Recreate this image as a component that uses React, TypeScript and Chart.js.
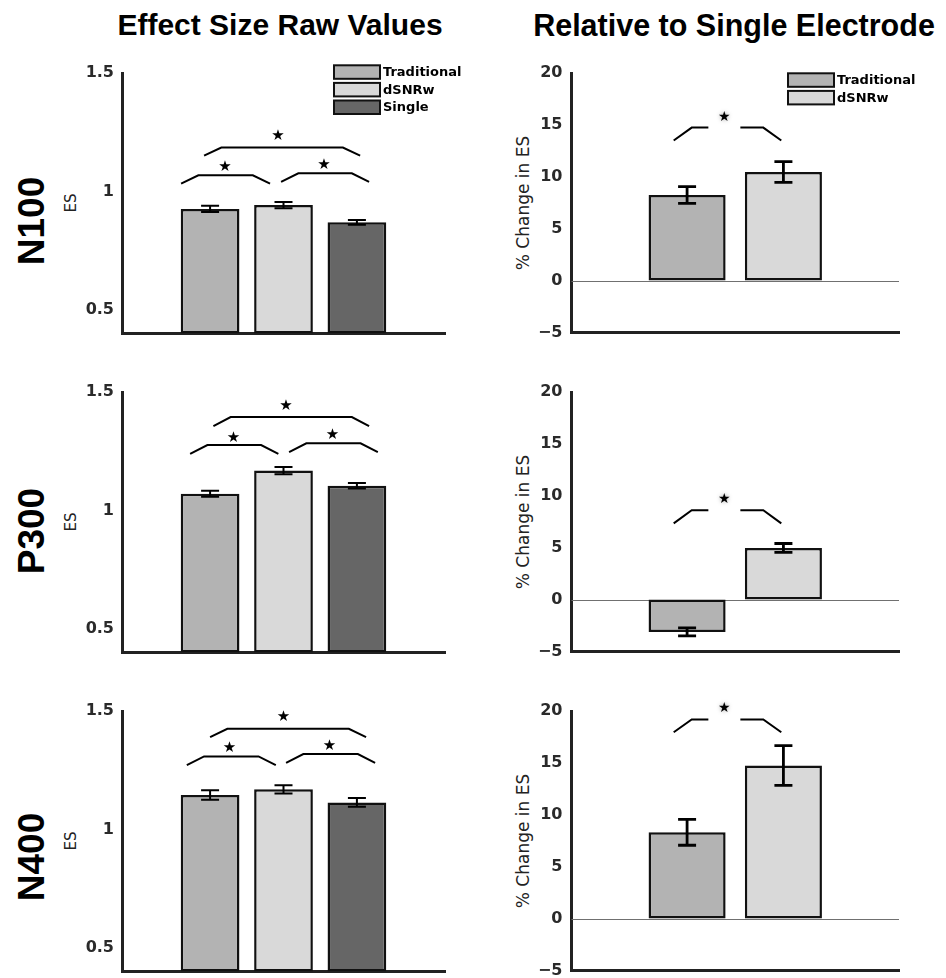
import React, { useEffect, useRef } from 'react';
import { Chart, registerables } from 'chart.js';

Chart.register(...registerables);

// ---------------- data ----------------
const ES_CATEGORIES = ['Traditional', 'dSNRw', 'Single'];
const PCT_CATEGORIES = ['Traditional', 'dSNRw'];
const COMPONENTS = ['N100', 'P300', 'N400'];
const ES_TICKS = [0.5, 1, 1.5];
const PCT_TICKS = [-5, 0, 5, 10, 15, 20];

const N100_ES = [0.926, 0.942, 0.869];
const N100_ES_ERR = [0.013, 0.013, 0.01];
const P300_ES = [1.07, 1.168, 1.104];
const P300_ES_ERR = [0.013, 0.015, 0.012];
const N400_ES = [1.145, 1.169, 1.114];
const N400_ES_ERR = [0.02, 0.017, 0.018];

const N100_PCT = [8.24, 10.46];
const N100_PCT_ERR = [0.8, 1.0];
const P300_PCT = [-3.12, 4.97];
const P300_PCT_ERR = [0.39, 0.43];
const N400_PCT = [8.31, 14.75];
const N400_PCT_ERR = [1.25, 1.92];

// significance brackets: [xStart, xEnd, yBase, yTop, starX, starY] (data units)
const N100_ES_SIG = [
  [0.605, 1.817, 1.033, 1.068, 1.204, 1.103],
  [1.967, 3.166, 1.04, 1.076, 2.553, 1.111],
  [0.918, 3.044, 1.151, 1.185, 1.926, 1.234],
];
const P300_ES_SIG = [
  [0.728, 1.93, 1.239, 1.276, 1.317, 1.307],
  [2.076, 3.285, 1.246, 1.283, 2.666, 1.318],
  [1.045, 3.166, 1.356, 1.394, 2.035, 1.441],
];
const N400_ES_SIG = [
  [0.683, 1.895, 1.271, 1.308, 1.263, 1.342],
  [2.035, 3.248, 1.281, 1.318, 2.625, 1.352],
  [1.0, 3.125, 1.39, 1.425, 1.999, 1.476],
];
const N100_PCT_SIG = [[0.861, 1.978, 13.5, 14.74, 1.387, 15.76]];
const P300_PCT_SIG = [[0.861, 1.978, 7.34, 8.6, 1.387, 9.65]];
const N400_PCT_SIG = [[0.861, 1.978, 17.95, 19.18, 1.387, 20.24]];

// ---------------- styling / layout ----------------
const BAR_COLORS = ['#b3b3b3', '#d9d9d9', '#666666'];
const ES_MIN = 0.4;
const ES_MAX = 1.5;
const PCT_MIN = -5;
const PCT_MAX = 20;
const AREA_TOP0 = 72.5;
const ROW_STEP = 319;
const AREA_H = 260;
const PAD_TOP = 40;
const X_AXIS_H = 14;
const EXTRA_H = 4;
const CANVAS_H = PAD_TOP + AREA_H + X_AXIS_H + EXTRA_H;
const AXIS_COLOR = '#222222';
const TICK_FONT = { family: '"DejaVu Sans", sans-serif', size: 16, weight: 'bold' };

const LEFT_GEO = { left: 60, width: 420, axisW: 62, padRight: 35, tickPad: 8, legendTop: -7.7, errW: 2, bracketSlant: 0.235, gap: 0, starSize: 15, shadow: false };
const RIGHT_GEO = { left: 500, width: 446, axisW: 71.5, padRight: 47, tickPad: 9, legendTop: 0.3, errW: 2.8, bracketSlant: 0.187, gap: 16, starSize: 14, shadow: true };

type PanelProps = {
  kind: 'es' | 'pct';
  values: number[];
  errors: number[];
  sig: number[][];
  legend: boolean;
  row: number;
};

function Panel({ kind, values, errors, sig, legend, row }: PanelProps) {
  const ref = useRef<HTMLCanvasElement | null>(null);
  const isEs = kind === 'es';
  const geo = isEs ? LEFT_GEO : RIGHT_GEO;
  const areaTop = AREA_TOP0 + row * ROW_STEP;

  useEffect(() => {
    if (!ref.current) return;
    const n = values.length;
    const labels = isEs ? ES_CATEGORIES : PCT_CATEGORIES;
    const ticks = isEs ? ES_TICKS : PCT_TICKS;

    const overlay = {
      id: 'overlay',
      beforeDatasetsDraw(chart: any) {
        if (isEs) return;
        const { ctx, chartArea } = chart;
        const ys = chart.scales.y;
        const y0 = Math.round(ys.getPixelForValue(0)) + 0.5;
        ctx.save();
        ctx.strokeStyle = '#707070';
        ctx.lineWidth = 1;
        ctx.beginPath();
        ctx.moveTo(chartArea.left, y0);
        ctx.lineTo(chartArea.right, y0);
        ctx.stroke();
        ctx.restore();
      },
      afterDatasetsDraw(chart: any) {
        const { ctx, chartArea } = chart;
        const xs = chart.scales.x;
        const ys = chart.scales.y;
        ctx.save();
        // error bars
        ctx.strokeStyle = '#000';
        ctx.lineWidth = geo.errW;
        values.forEach((v, i) => {
          const px = xs.getPixelForValue(i + 1);
          const y1 = ys.getPixelForValue(v - errors[i]);
          const y2 = ys.getPixelForValue(v + errors[i]);
          const cap = 9;
          ctx.beginPath();
          ctx.moveTo(px, y1);
          ctx.lineTo(px, y2);
          ctx.moveTo(px - cap, y1);
          ctx.lineTo(px + cap, y1);
          ctx.moveTo(px - cap, y2);
          ctx.lineTo(px + cap, y2);
          ctx.stroke();
        });
        // significance brackets
        ctx.lineWidth = 2;
        ctx.lineJoin = 'miter';
        sig.forEach(([xa, xb, yb, yt, sx, sy]) => {
          const pa = xs.getPixelForValue(xa);
          const pb = xs.getPixelForValue(xb);
          const pai = xs.getPixelForValue(xa + geo.bracketSlant);
          const pbi = xs.getPixelForValue(xb - geo.bracketSlant);
          const pyb = ys.getPixelForValue(yb);
          const pyt = ys.getPixelForValue(yt);
          const psx = xs.getPixelForValue(sx);
          const psy = ys.getPixelForValue(sy);
          ctx.strokeStyle = '#000';
          ctx.beginPath();
          ctx.moveTo(pa, pyb);
          ctx.lineTo(pai, pyt);
          if (geo.gap > 0) {
            ctx.lineTo(psx - geo.gap, pyt);
            ctx.moveTo(psx + geo.gap, pyt);
          }
          ctx.lineTo(pbi, pyt);
          ctx.lineTo(pb, pyb);
          ctx.stroke();
          ctx.save();
          ctx.fillStyle = '#000';
          ctx.font = `${geo.starSize}px "DejaVu Sans", sans-serif`;
          ctx.textAlign = 'center';
          ctx.textBaseline = 'middle';
          if (geo.shadow) {
            ctx.shadowColor = 'rgba(0,0,0,0.35)';
            ctx.shadowBlur = 4;
          }
          ctx.fillText('\u2605', psx, psy);
          ctx.restore();
        });
        // legend
        if (legend) {
          const bx = chartArea.right - 111;
          const by0 = chartArea.top + geo.legendTop;
          labels.forEach((lab, i) => {
            const y = by0 + i * 17.6;
            ctx.fillStyle = BAR_COLORS[i];
            ctx.fillRect(bx, y, 46, 13.5);
            ctx.strokeStyle = '#111';
            ctx.lineWidth = 2;
            ctx.strokeRect(bx, y, 46, 13.5);
            ctx.fillStyle = '#000';
            ctx.font = 'bold 13px "DejaVu Sans", sans-serif';
            ctx.textAlign = 'left';
            ctx.textBaseline = 'middle';
            ctx.fillText(lab, bx + 49, y + 7.5);
          });
        }
        ctx.restore();
      },
    };

    const chart = new Chart(ref.current, {
      type: 'bar',
      data: {
        datasets: [
          {
            label: isEs ? 'Effect size' : '% Change in ES',
            data: values.map((v, i) => ({ x: i + 1, y: v })),
            backgroundColor: BAR_COLORS.slice(0, n),
            borderColor: '#111',
            borderWidth: 2.5,
            borderSkipped: false,
            base: isEs ? ES_MIN : 0,
            categoryPercentage: 1,
            barPercentage: 0.8,
          } as any,
        ],
      },
      options: {
        animation: false,
        responsive: false,
        maintainAspectRatio: false,
        events: [],
        layout: { padding: { left: 0, top: PAD_TOP, right: geo.padRight, bottom: 0 } },
        plugins: {
          legend: { display: false },
          tooltip: { enabled: false },
          title: { display: false },
        },
        scales: {
          x: {
            type: 'linear',
            min: -0.2,
            max: n + 1.2,
            offset: false,
            z: 1,
            grid: { display: false, drawTicks: false },
            border: { display: true, width: 3, color: AXIS_COLOR },
            ticks: { display: false },
            afterBuildTicks: (s: any) => {
              s.ticks = values.map((_, i) => ({ value: i + 1 }));
            },
            afterFit: (s: any) => {
              s.height = X_AXIS_H;
            },
          },
          y: {
            type: 'linear',
            min: isEs ? ES_MIN : PCT_MIN,
            max: isEs ? ES_MAX : PCT_MAX,
            z: 1,
            grid: { display: false, drawTicks: false },
            border: { display: true, width: 3, color: AXIS_COLOR },
            ticks: {
              padding: geo.tickPad,
              color: '#2a2a2a',
              font: TICK_FONT,
              callback: (v: any) => String(v).replace('-', '\u2212'),
            },
            afterBuildTicks: (s: any) => {
              s.ticks = ticks.map((v) => ({ value: v }));
            },
            afterFit: (s: any) => {
              s.width = geo.axisW;
            },
          },
        },
      } as any,
      plugins: [overlay],
    });
    return () => chart.destroy();
  }, []);

  return (
    <canvas
      ref={ref}
      width={geo.width}
      height={CANVAS_H}
      style={{ position: 'absolute', left: geo.left, top: areaTop - PAD_TOP, width: geo.width, height: CANVAS_H }}
    />
  );
}

function Label({ text, x, y, font, rotate, color }: { text: string; x: number; y: number; font: string; rotate?: boolean; color?: string }) {
  return (
    <div
      style={{
        position: 'absolute',
        left: x,
        top: y,
        font,
        lineHeight: 1,
        whiteSpace: 'nowrap',
        color: color || '#000',
        transform: `translate(-50%, -50%)${rotate ? ' rotate(-90deg)' : ''}`,
      }}
    >
      {text}
    </div>
  );
}

const ES_ROWS = [
  { values: N100_ES, errors: N100_ES_ERR, sig: N100_ES_SIG },
  { values: P300_ES, errors: P300_ES_ERR, sig: P300_ES_SIG },
  { values: N400_ES, errors: N400_ES_ERR, sig: N400_ES_SIG },
];
const PCT_ROWS = [
  { values: N100_PCT, errors: N100_PCT_ERR, sig: N100_PCT_SIG },
  { values: P300_PCT, errors: P300_PCT_ERR, sig: P300_PCT_SIG },
  { values: N400_PCT, errors: N400_PCT_ERR, sig: N400_PCT_SIG },
];
const ROW_LABEL_Y = [220.8, 530.8, 856.5];

export default function App() {
  return (
    <div
      style={{
        position: 'absolute',
        left: 0,
        top: 0,
        width: 946,
        height: 978,
        overflow: 'hidden',
        background: '#fff',
      }}
    >
      <Label text="Effect Size Raw Values" x={280} y={25.3} font='bold 30px "Liberation Sans", Arial, sans-serif' />
      <Label text="Relative to Single Electrode" x={734} y={25.3} font='bold 30.5px "Liberation Sans", Arial, sans-serif' />
      {COMPONENTS.map((c, r) => (
        <React.Fragment key={c}>
          <Label text={c} x={31} y={ROW_LABEL_Y[r]} font='bold 37px "Liberation Sans", Arial, sans-serif' rotate />
          <Label text="ES" x={71} y={AREA_TOP0 + r * ROW_STEP + AREA_H / 2} font='15px "DejaVu Sans", sans-serif' rotate color="#222" />
          <Label text="% Change in ES" x={523} y={AREA_TOP0 + r * ROW_STEP + AREA_H / 2} font='17px "DejaVu Sans", sans-serif' rotate color="#222" />
          <Panel kind="es" values={ES_ROWS[r].values} errors={ES_ROWS[r].errors} sig={ES_ROWS[r].sig} legend={r === 0} row={r} />
          <Panel kind="pct" values={PCT_ROWS[r].values} errors={PCT_ROWS[r].errors} sig={PCT_ROWS[r].sig} legend={r === 0} row={r} />
        </React.Fragment>
      ))}
    </div>
  );
}
